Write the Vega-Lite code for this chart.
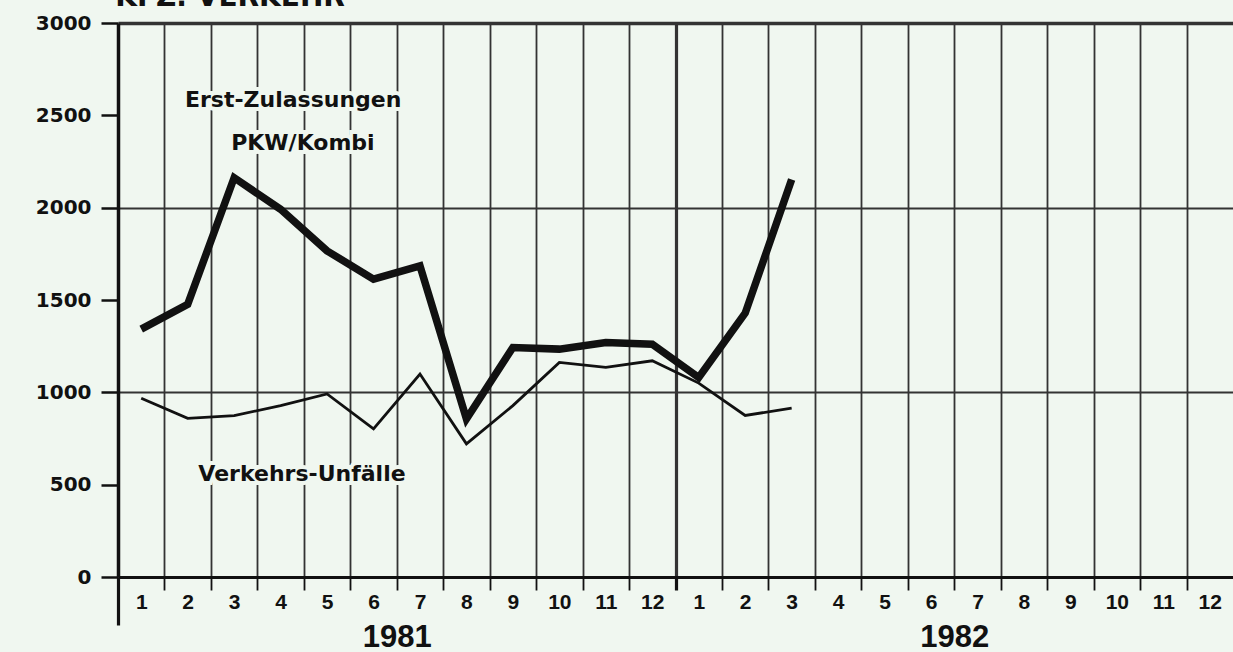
{
  "$schema": "https://vega.github.io/schema/vega-lite/v6.json",
  "width": 1115,
  "height": 554,
  "autosize": {"type": "none"},
  "padding": {"left": 118, "top": 23, "right": 0, "bottom": 75},
  "background": "#f0f7f0",
  "config": {"view": {"stroke": null}},
  "datasets": {
    "reihen": [
      {"reihe": "Erst-Zulassungen", "monat": 1, "wert": 1342},
      {"reihe": "Erst-Zulassungen", "monat": 2, "wert": 1477},
      {"reihe": "Erst-Zulassungen", "monat": 3, "wert": 2162},
      {"reihe": "Erst-Zulassungen", "monat": 4, "wert": 1991},
      {"reihe": "Erst-Zulassungen", "monat": 5, "wert": 1766},
      {"reihe": "Erst-Zulassungen", "monat": 6, "wert": 1613},
      {"reihe": "Erst-Zulassungen", "monat": 7, "wert": 1685},
      {"reihe": "Erst-Zulassungen", "monat": 8, "wert": 856},
      {"reihe": "Erst-Zulassungen", "monat": 9, "wert": 1243},
      {"reihe": "Erst-Zulassungen", "monat": 10, "wert": 1234},
      {"reihe": "Erst-Zulassungen", "monat": 11, "wert": 1270},
      {"reihe": "Erst-Zulassungen", "monat": 12, "wert": 1261},
      {"reihe": "Erst-Zulassungen", "monat": 13, "wert": 1080},
      {"reihe": "Erst-Zulassungen", "monat": 14, "wert": 1429},
      {"reihe": "Erst-Zulassungen", "monat": 15, "wert": 2152},
      {"reihe": "Verkehrs-Unfälle", "monat": 1, "wert": 968},
      {"reihe": "Verkehrs-Unfälle", "monat": 2, "wert": 859},
      {"reihe": "Verkehrs-Unfälle", "monat": 3, "wert": 874},
      {"reihe": "Verkehrs-Unfälle", "monat": 4, "wert": 928},
      {"reihe": "Verkehrs-Unfälle", "monat": 5, "wert": 991},
      {"reihe": "Verkehrs-Unfälle", "monat": 6, "wert": 802},
      {"reihe": "Verkehrs-Unfälle", "monat": 7, "wert": 1099},
      {"reihe": "Verkehrs-Unfälle", "monat": 8, "wert": 721},
      {"reihe": "Verkehrs-Unfälle", "monat": 9, "wert": 928},
      {"reihe": "Verkehrs-Unfälle", "monat": 10, "wert": 1162},
      {"reihe": "Verkehrs-Unfälle", "monat": 11, "wert": 1135},
      {"reihe": "Verkehrs-Unfälle", "monat": 12, "wert": 1171},
      {"reihe": "Verkehrs-Unfälle", "monat": 13, "wert": 1050},
      {"reihe": "Verkehrs-Unfälle", "monat": 14, "wert": 875},
      {"reihe": "Verkehrs-Unfälle", "monat": 15, "wert": 914}
    ],
    "beschriftung": [
      {"text": "Erst-Zulassungen", "x": 4.27, "y": 2583},
      {"text": "PKW/Kombi", "x": 4.48, "y": 2350},
      {"text": "Verkehrs-Unfälle", "x": 4.46, "y": 558}
    ],
    "titel": [
      {"text": "KFZ. VERKEHR", "x": 0.44, "y": 3090}
    ]
  },
  "layer": [
    {
      "data": {"name": "reihen"},
      "mark": {"type": "line", "color": "#111111", "strokeJoin": "miter"},
      "encoding": {
        "x": {
          "field": "monat", "type": "quantitative",
          "scale": {"domain": [0.5, 24.5], "nice": false, "zero": false},
          "axis": {
            "orient": "bottom",
            "title": null,
            "values": [0.5, 1.5, 2.5, 3.5, 4.5, 5.5, 6.5, 7.5, 8.5, 9.5, 10.5, 11.5, 12.5, 13.5, 14.5, 15.5, 16.5, 17.5, 18.5, 19.5, 20.5, 21.5, 22.5, 23.5],
            "grid": true,
            "gridColor": "#333333",
            "gridWidth": {"condition": {"test": "datum.value == 12.5", "value": 3.2}, "value": 1.8},
            "gridOpacity": {"condition": {"test": "datum.value == 0.5", "value": 0}, "value": 1},
            "domain": true,
            "domainColor": "#111111",
            "domainWidth": 3.2,
            "ticks": true,
            "tickColor": "#111111",
            "tickWidth": {"condition": {"test": "datum.value == 12.5 || datum.value == 0.5", "value": 3.2}, "value": 1.8},
            "tickSize": {"condition": {"test": "datum.value == 0.5", "value": 48}, "value": 13},
            "labelExpr": "datum.value == 6.5 ? '1981' : (datum.value == 18.5 ? '1982' : '')",
            "labelFont": "Liberation Sans",
            "labelFontWeight": "bold",
            "labelFontSize": 31,
            "labelColor": "#111111",
            "labelPadding": 32,
            "labelBaseline": "top",
            "labelFlush": false,
            "labelOverlap": false,
            "labelBound": false
          }
        },
        "y": {
          "field": "wert", "type": "quantitative",
          "scale": {"domain": [0, 3000], "nice": false, "zero": false},
          "axis": {
            "orient": "left",
            "title": null,
            "format": "d",
            "values": [0, 500, 1000, 1500, 2000, 2500, 3000],
            "grid": true,
            "gridColor": "#333333",
            "gridOpacity": {"condition": {"test": "datum.value == 1000 || datum.value == 2000 || datum.value == 3000", "value": 1}, "value": 0},
            "gridWidth": {"condition": {"test": "datum.value == 3000", "value": 3.5}, "value": 1.8},
            "domain": true,
            "domainColor": "#111111",
            "domainWidth": 3.5,
            "tickColor": "#111111",
            "tickSize": 17,
            "tickWidth": 2.5,
            "labelFont": "DejaVu Sans",
            "labelFontWeight": "bold",
            "labelFontSize": 20,
            "labelColor": "#111111",
            "labelPadding": 10,
            "labelFlush": false,
            "labelOverlap": false
          }
        },
        "detail": {"field": "reihe"},
        "strokeWidth": {
          "field": "reihe", "type": "nominal",
          "scale": {"domain": ["Erst-Zulassungen", "Verkehrs-Unfälle"], "range": [7.5, 2.8]},
          "legend": null
        }
      }
    },
    {
      "data": {"name": "beschriftung"},
      "mark": {"type": "text", "font": "DejaVu Sans", "fontWeight": "bold", "fontSize": 22, "align": "center", "baseline": "middle", "fill": "#f0f7f0", "stroke": "#f0f7f0", "strokeWidth": 8},
      "encoding": {
        "x": {
          "field": "x", "type": "quantitative",
          "scale": {"domain": [0.5, 24.5], "nice": false, "zero": false},
          "axis": {
            "orient": "bottom",
            "title": null,
            "values": [1, 2, 3, 4, 5, 6, 7, 8, 9, 10, 11, 12, 13, 14, 15, 16, 17, 18, 19, 20, 21, 22, 23, 24],
            "grid": false,
            "ticks": false,
            "domain": false,
            "labelExpr": "'' + (((datum.value - 1) % 12) + 1)",
            "labelFont": "Liberation Sans",
            "labelFontWeight": "bold",
            "labelFontSize": 21,
            "labelColor": "#111111",
            "labelPadding": 14,
            "labelBaseline": "top",
            "labelFlush": false,
            "labelOverlap": false,
            "labelBound": false
          }
        },
        "y": {"field": "y", "type": "quantitative", "scale": {"domain": [0, 3000], "nice": false, "zero": false}, "axis": null},
        "text": {"field": "text"}
      }
    },
    {
      "data": {"name": "beschriftung"},
      "mark": {"type": "text", "font": "DejaVu Sans", "fontWeight": "bold", "fontSize": 22, "align": "center", "baseline": "middle", "fill": "#111111"},
      "encoding": {
        "x": {"field": "x", "type": "quantitative", "scale": {"domain": [0.5, 24.5], "nice": false, "zero": false}, "axis": null},
        "y": {"field": "y", "type": "quantitative", "scale": {"domain": [0, 3000], "nice": false, "zero": false}, "axis": null},
        "text": {"field": "text"}
      }
    },
    {
      "data": {"name": "titel"},
      "mark": {"type": "text", "font": "DejaVu Sans", "fontWeight": "bold", "fontSize": 28, "align": "left", "baseline": "alphabetic", "fill": "#111111"},
      "encoding": {
        "x": {"field": "x", "type": "quantitative", "scale": {"domain": [0.5, 24.5], "nice": false, "zero": false}, "axis": null},
        "y": {"field": "y", "type": "quantitative", "scale": {"domain": [0, 3000], "nice": false, "zero": false}, "axis": null},
        "text": {"field": "text"}
      }
    }
  ],
  "resolve": {"axis": {"x": "independent", "y": "independent"}}
}
